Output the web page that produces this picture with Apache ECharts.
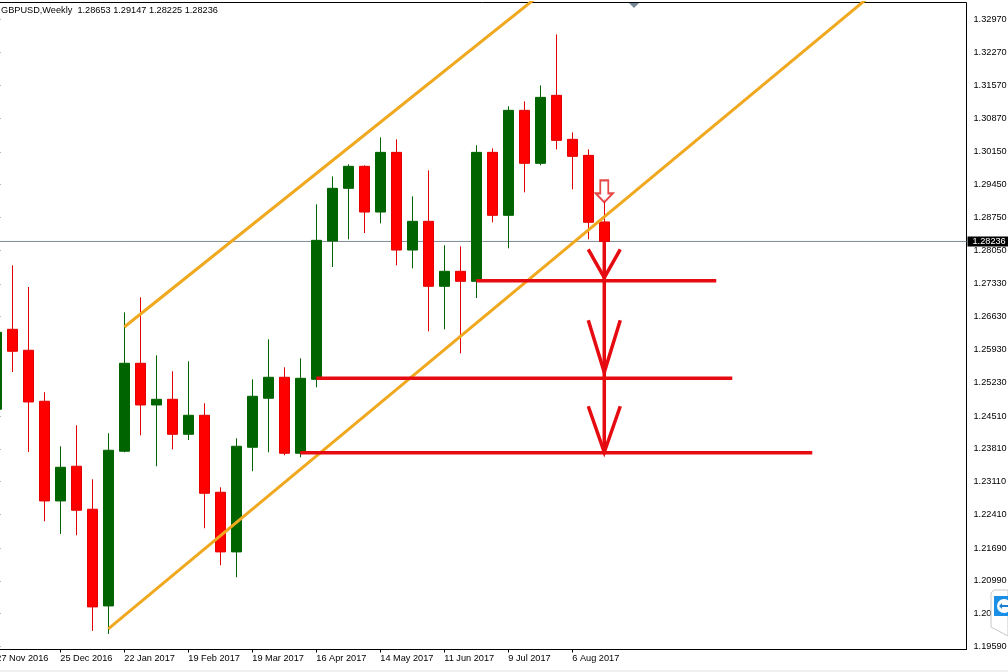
<!DOCTYPE html>
<html><head><meta charset="utf-8">
<style>html,body{margin:0;padding:0;background:#fff}#c{width:1008px;height:672px}</style>
<script src="https://cdn.jsdelivr.net/npm/echarts@6/dist/echarts.min.js"></script>
</head><body><div id="c"></div>
<script>
// Week index 0 = 27 Nov 2016; bars: [open, close, low, high]
const tickIndexes = [0,4,8,12,16,20,24,28,32,36];
const tickLabels = ['27 Nov 2016','25 Dec 2016','22 Jan 2017','19 Feb 2017','19 Mar 2017','16 Apr 2017','14 May 2017','11 Jun 2017','9 Jul 2017','6 Aug 2017'];
const priceTicks = [1.32970,1.32270,1.31570,1.30870,1.30150,1.29450,1.28750,1.28050,1.27330,1.26630,1.25930,1.25230,1.24510,1.23810,1.23110,1.22410,1.21690,1.20990,1.20290,1.19590];
const bars = [
[1.24654,1.26297,1.24600,1.26400],
[1.26361,1.25892,1.25450,1.27727],
[1.25913,1.24810,1.23743,1.27264],
[1.24825,1.22697,1.22264,1.25017],
[1.22697,1.23416,1.21993,1.23864],
[1.23438,1.22499,1.21965,1.24312],
[1.22520,1.20435,1.19923,1.23160],
[1.20456,1.23779,1.19859,1.24142],
[1.23758,1.25636,1.23736,1.26724],
[1.25636,1.24746,1.24099,1.27044],
[1.24746,1.24867,1.23438,1.25806],
[1.24867,1.24120,1.23800,1.25465],
[1.24120,1.24526,1.23999,1.25678],
[1.24526,1.22861,1.22114,1.24782],
[1.22883,1.21609,1.21325,1.22989],
[1.21609,1.23864,1.21069,1.24035],
[1.23843,1.24931,1.23331,1.25294],
[1.24889,1.25337,1.23736,1.26148],
[1.25337,1.23715,1.23672,1.25550],
[1.23715,1.25315,1.23630,1.25742],
[1.25294,1.28260,1.25123,1.29029],
[1.28245,1.29370,1.27691,1.29626],
[1.29370,1.29840,1.28282,1.29882],
[1.29840,1.28864,1.28416,1.29861],
[1.28864,1.30138,1.28623,1.30458],
[1.30138,1.28053,1.27727,1.30416],
[1.28053,1.28666,1.27663,1.29199],
[1.28666,1.27279,1.26318,1.29754],
[1.27279,1.27599,1.26361,1.28154],
[1.27599,1.27385,1.25849,1.28132],
[1.27385,1.30138,1.27029,1.30288],
[1.30138,1.28794,1.28645,1.30224],
[1.28794,1.31035,1.28090,1.31120],
[1.31035,1.29904,1.29285,1.31227],
[1.29904,1.31312,1.29861,1.31568],
[1.31355,1.30394,1.30202,1.32656],
[1.30416,1.30053,1.29349,1.30565],
[1.30074,1.28645,1.28282,1.30202],
[1.28653,1.28236,1.28225,1.29147]
];
const lowerChannel = [[7,1.19966],[55,1.33585]];
const upperChannel = [[8,1.26410],[34,1.33510]];
const targetA = [[30,1.27400],[45,1.27400]];
const targetB = [[20,1.25315],[46,1.25315]];
const targetC = [[19,1.23726],[51,1.23726]];
const dropLine = [[38,1.28239],[38,1.23736]];
const headA = [[37,1.28068],[38,1.27464],[39,1.28068]];
const headB = [[37,1.26553],[38,1.25444],[39,1.26553]];
const headC = [[37,1.24718],[38,1.23736],[39,1.24718]];
const signalArrow = [[38,1.29306]];
const lastPrice = 1.28236;
const xMin = -0.5, xMax = 60.64;

const FONT = '"Liberation Sans"';
const FS = 9.2;
const RED = '#e60b10', ORANGE = '#f0a81e';
const lineS = (d,c,w,z)=>({type:'line',data:d,symbol:'none',silent:true,animation:false,z:z,clip:true,
  lineStyle:{color:c,width:w,cap:'butt',join:'miter'}});
const chart = echarts.init(document.getElementById('c'),null,{renderer:'canvas'});
chart.setOption({
  animation:false,backgroundColor:'#fff',
  title:{text:'GBPUSD,Weekly  1.28653 1.29147 1.28225 1.28236',left:1,top:6,padding:0,
    textStyle:{fontFamily:FONT,fontSize:FS,fontWeight:'normal',color:'#000'}},
  grid:{left:-11.7,top:2.5,width:978.2,height:647,outerBoundsMode:'none',containLabel:false,show:true,backgroundColor:'#fff',borderColor:'#000',borderWidth:1},
  xAxis:{type:'value',min:xMin,max:xMax,splitLine:{show:false},
    axisLine:{show:true,lineStyle:{color:'#000',width:1}},
    axisTick:{show:true,length:3,customValues:tickIndexes,lineStyle:{color:'#000'}},
    axisLabel:{customValues:tickIndexes,margin:4,align:'left',fontFamily:FONT,fontSize:FS,color:'#000',
      formatter:v=>tickLabels[tickIndexes.indexOf(v)]||''}},
  yAxis:{type:'value',position:'right',min:1.19526,max:1.33337,splitLine:{show:false},
    axisLine:{show:true,lineStyle:{color:'#000',width:1}},
    axisTick:{show:true,length:4,customValues:priceTicks,lineStyle:{color:'#000'}},
    axisLabel:{customValues:priceTicks,margin:7,fontFamily:FONT,fontSize:FS,color:'#000',formatter:v=>v.toFixed(5)}},
  series:[
    {type:'candlestick',silent:true,z:3,barWidth:10,
     data:bars.map((b,i)=>[i,...b]),
     encode:{x:0,y:[1,2,3,4]},
     itemStyle:{color:'#006400',color0:'#ff0000',borderColor:'#006400',borderColor0:'#e30000',borderWidth:1}},
    {type:'line',data:[[xMin,lastPrice],[xMax,lastPrice]],symbol:'none',silent:true,z:2,clip:false,
     lineStyle:{color:'#7f8c94',width:1},
     endLabel:{show:true,distance:1,formatter:()=>lastPrice.toFixed(5),fontFamily:FONT,fontSize:FS,color:'#fff',
       backgroundColor:'#000',padding:[1,4,0,5]}},
    lineS(lowerChannel,ORANGE,3,4),lineS(upperChannel,ORANGE,3,4),
    lineS(targetA,RED,3.5,5),lineS(targetB,RED,3.5,5),lineS(targetC,RED,3.5,5),
    lineS(dropLine,RED,3.5,6),lineS(headA,RED,3.5,6),lineS(headB,RED,3.5,6),lineS(headC,RED,3.5,6),
    {type:'scatter',data:signalArrow,z:7,silent:true,symbolSize:[17,22],
     symbol:'path://M4.5,0 H12.5 V13 H17 L8.5,22 L0,13 H4.5 Z',
     itemStyle:{color:'#fff',borderColor:'#e01a1a',borderWidth:2}}
  ],
  graphic:[
    {type:'polygon',z:50,shape:{points:[[629,3],[639,3],[634,8]]},style:{fill:'#778899'}},
    {type:'rect',z:50,shape:{x:0,y:670,width:1008,height:2},style:{fill:'#efefef'}},
    {type:'polygon',z:60,shape:{points:[[991,593],[994,590],[1008,590],[1008,636],[991,627]]},style:{fill:'#fff',stroke:'#c8c8c8',lineWidth:1}},
    {type:'rect',z:61,shape:{x:994,y:596,width:14,height:20},style:{fill:'#1a8fe6'}},
    {type:'circle',z:62,shape:{cx:1004,cy:606,r:7},style:{fill:'#fff'}},
    {type:'polygon',z:63,shape:{points:[[999,606],[1002,603],[1002,605],[1008,605],[1008,607],[1002,607],[1002,609]]},style:{fill:'#1a7fd0'}}
  ]
});
</script></body></html>
